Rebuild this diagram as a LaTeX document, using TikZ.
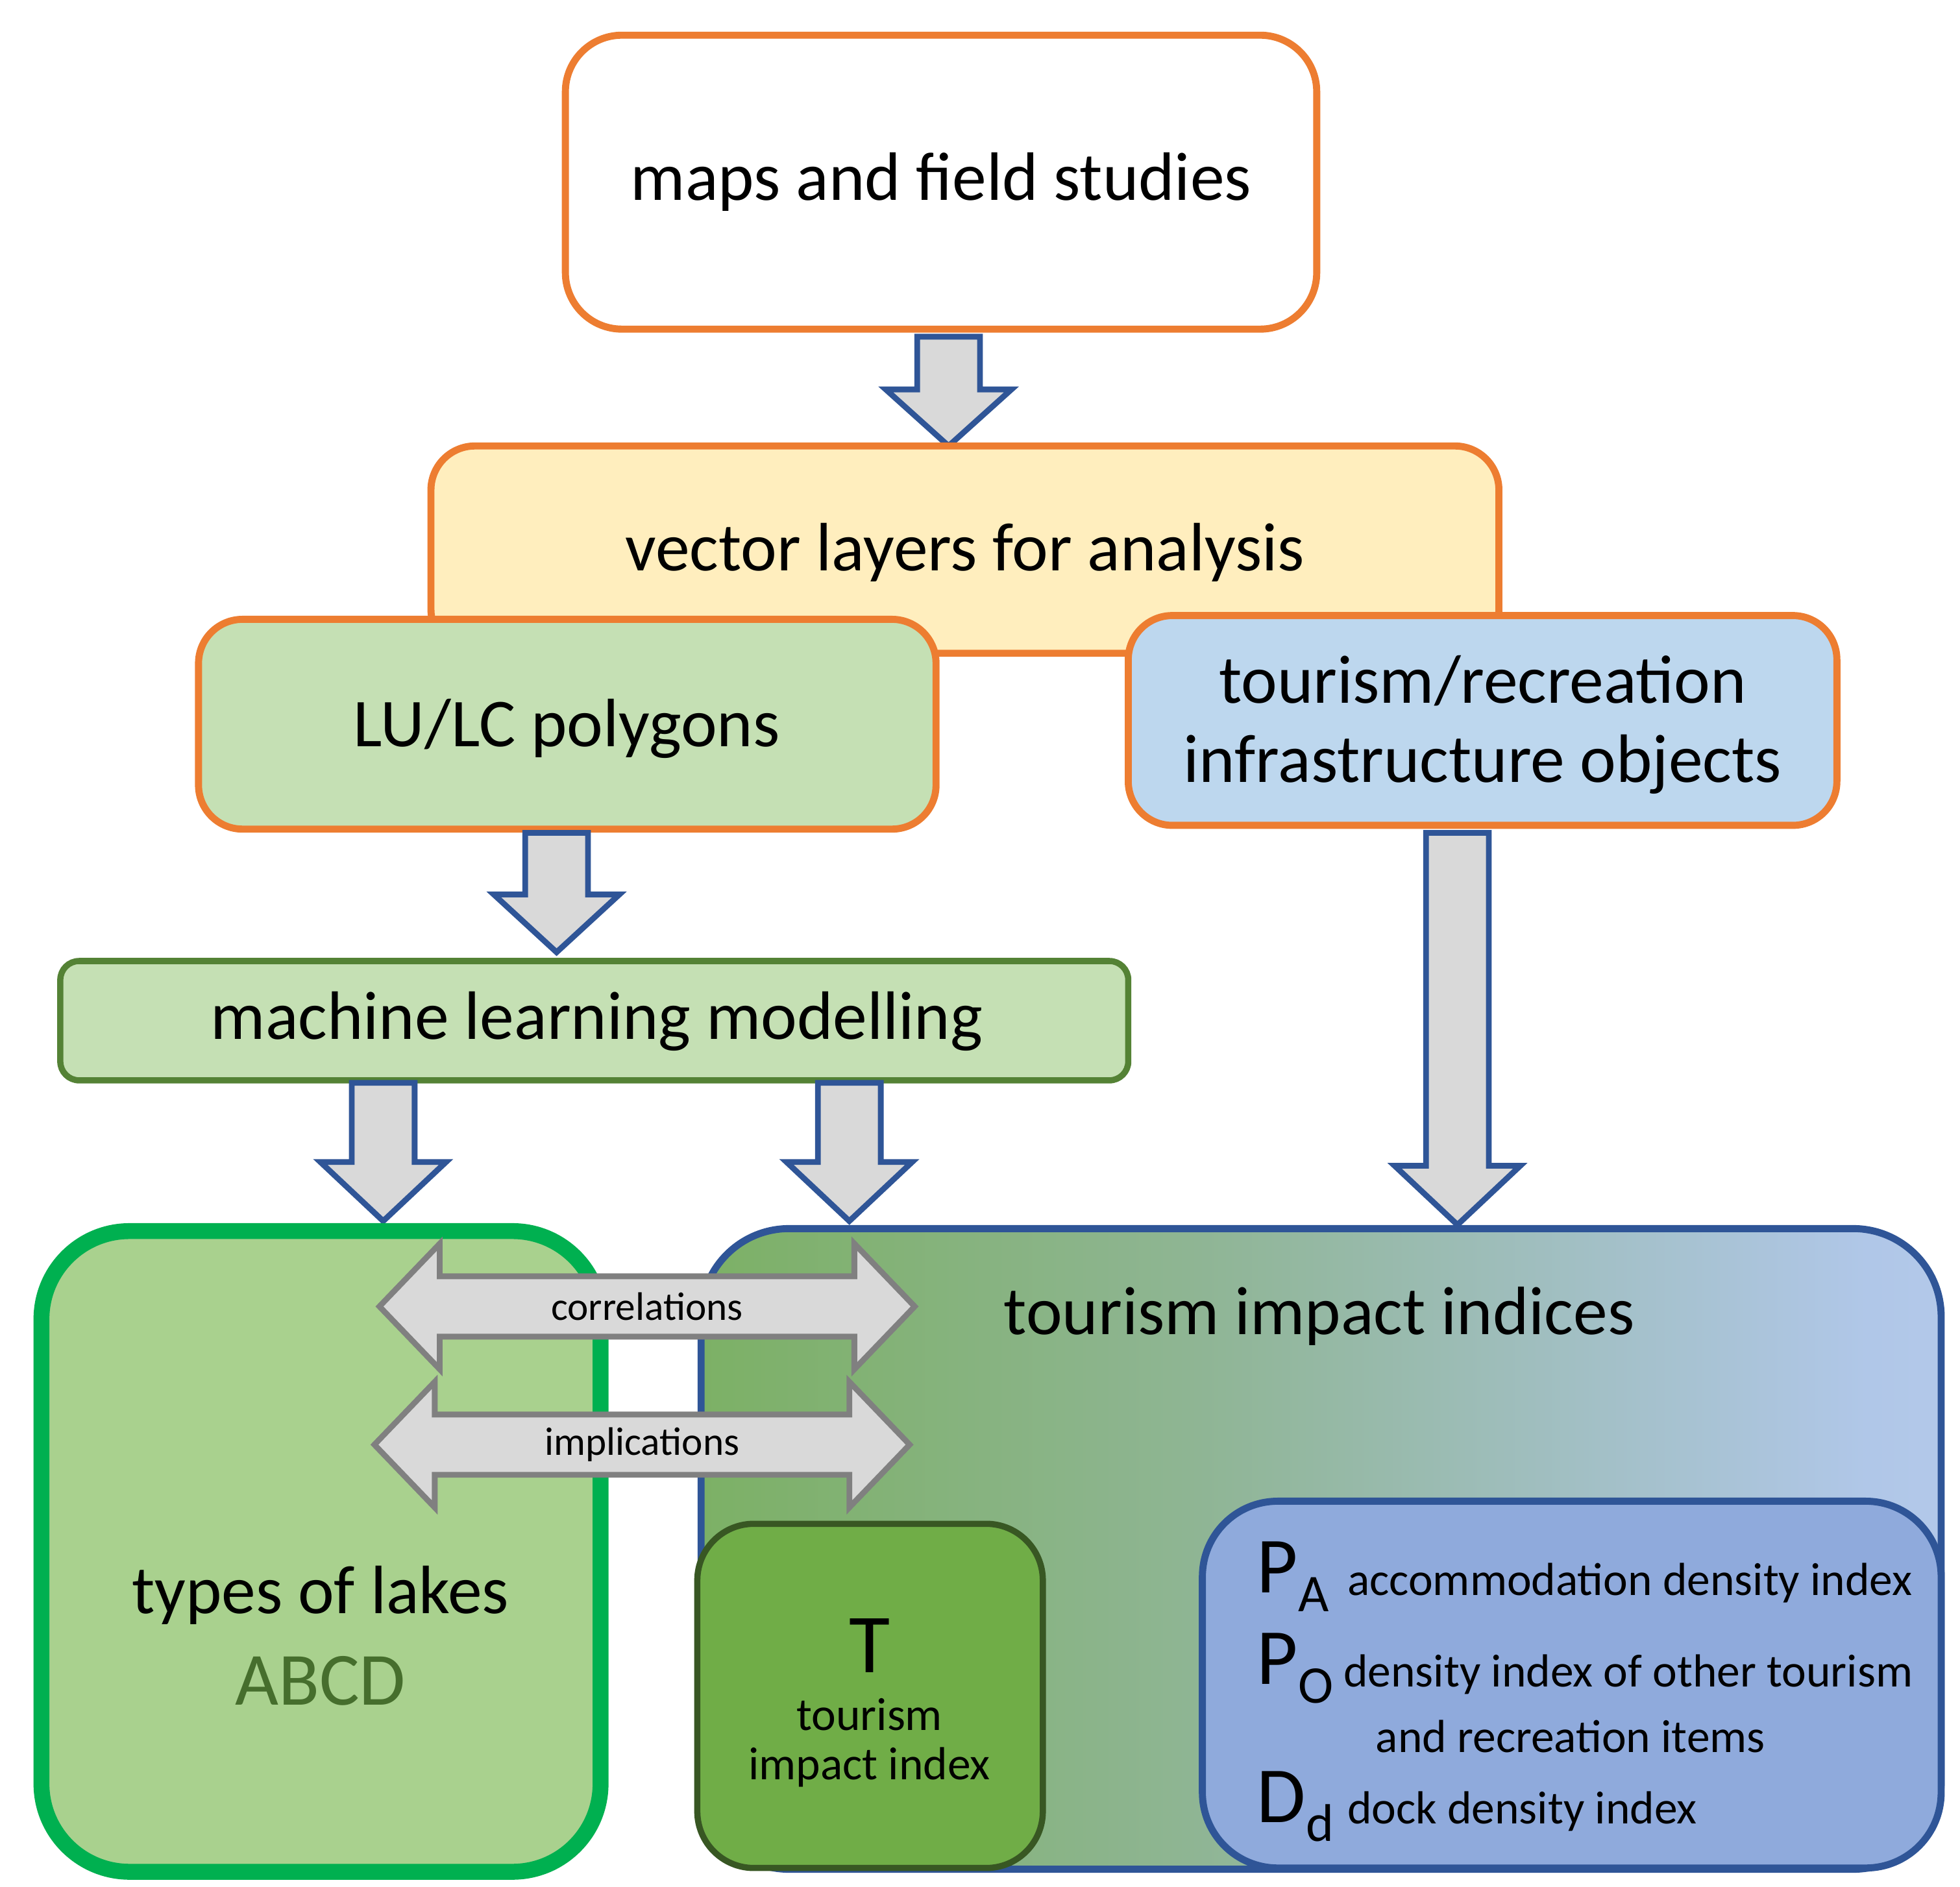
\documentclass[tikz,border=0pt]{standalone}
\usepackage{fontspec}
\setmainfont{Carlito}
\definecolor{org}{HTML}{ED7D31}
\definecolor{ablue}{HTML}{2F5597}
\definecolor{agray}{HTML}{D9D9D9}
\definecolor{g1}{rgb}{0.44,0.68,0.28}
\definecolor{g2}{rgb}{0.56,0.71,0.58}
\definecolor{g3}{rgb}{0.69,0.78,0.91}
\definecolor{g4}{rgb}{0.79,0.84,0.94}
\pgfdeclarehorizontalshading{tgrad}{100bp}{color(0bp)=(g1); color(12bp)=(g1); color(45bp)=(g2); color(72bp)=(g3); color(100bp)=(g4)}
\newcommand\darrow[6]{% name, cx, ytop, yshaftend, ytip
 \draw[blockarr] (#2-25,-#3) -- (#2+25,-#3) -- (#2+25,-#4) -- (#2+50,-#4) -- (#2,-#5) -- (#2-50,-#4) -- (#2-25,-#4) -- cycle;}
\newcommand\lrarrow[4]{% x1, x2, cy
 \draw[dblarr] (#1,-#3) -- (#1+48,-#3+50) -- (#1+48,-#3+24) -- (#2-48,-#3+24) -- (#2-48,-#3+50) -- (#2,-#3) -- (#2-48,-#3-50) -- (#2-48,-#3-24) -- (#1+48,-#3-24) -- (#1+48,-#3-50) -- cycle;
 \node at ({(#1+#2)/2},-#3) {\fontsize{9}{11}\selectfont #4};}
\begin{document}
\begin{tikzpicture}[x=0.01cm,y=0.01cm,
 box/.style={draw=org,line width=1.6pt,rounded corners=0.35cm},
 blockarr/.style={draw=ablue,fill=agray,line width=1.3pt,line join=miter},
 dblarr/.style={draw=gray,fill=agray,line width=1.3pt},
 big/.style={font=\fontsize{15.5}{19}\selectfont},
 small/.style={font=\fontsize{10.5}{13}\selectfont}]
\useasboundingbox (0,0) rectangle (1560,-1502);
% top
\draw[box,rounded corners=0.45cm,fill=white] (450,-28) rectangle (1048,-262);
\node[big] (maps) at (749,-145) {maps and field studies};
\darrow{a1}{755}{268}{310}{355}{}
\draw[box,fill={rgb,255:red,255;green,238;blue,190}] (343,-355) rectangle (1193,-520);
\node[big] (vec) at (768,-440) {vector layers for analysis};
\draw[box,fill={rgb,255:red,197;green,224;blue,180}] (158,-493) rectangle (745,-660);
\node[big] (lulc) at (451,-580) {LU/LC polygons};
\draw[box,fill={rgb,255:red,189;green,215;blue,238}] (898,-490) rectangle (1462,-657);
\node[big,align=center] (tour) at (1180,-577) {tourism/recreation\\[-1pt]infrastructure objects};
\darrow{a2}{443}{663}{712}{758}{}
\draw[draw={rgb,255:red,84;green,130;blue,53},line width=1.4pt,rounded corners=0.15cm,fill={rgb,255:red,197;green,224;blue,180}] (48,-765) rectangle (898,-860);
\node[big] (ml) at (475,-813) {machine learning modelling};
\darrow{a3}{305}{862}{925}{972}{}
\darrow{a4}{676}{862}{925}{972}{}
\darrow{a5}{1160}{663}{928}{975}{}
% bottom
\draw[draw={rgb,255:red,0;green,176;blue,80},line width=3.6pt,rounded corners=0.7cm,fill={rgb,255:red,169;green,209;blue,142}] (33,-980) rectangle (478,-1490);
\node[big,align=center] (lakes) at (255,-1270) {types of lakes};
\node[font=\fontsize{17}{20}\selectfont,text={rgb,255:red,70;green,110;blue,45}] (abcd) at (255,-1338) {ABCD};
\draw[draw=ablue,line width=1.6pt,rounded corners=0.7cm,shading=tgrad] (558,-978) rectangle (1545,-1488);
\node[big] (tii) at (1050,-1048) {tourism impact indices};
\draw[draw={rgb,255:red,56;green,87;blue,35},line width=1.4pt,rounded corners=0.45cm,fill=g1] (555,-1213) rectangle (830,-1487);
\node[font=\fontsize{19}{22}\selectfont] (T) at (692,-1310) {T};
\node[small] (Tl1) at (692,-1365) {tourism};
\node[small] (Tl2) at (692,-1407) {impact index};
\draw[draw=ablue,line width=1.6pt,rounded corners=0.6cm,fill={rgb,255:red,143;green,170;blue,220}] (957,-1195) rectangle (1545,-1487);
\node[anchor=west,font=\fontsize{18}{22}\selectfont] (PA) at (988,-1255) {P\raisebox{-0.5ex}{\fontsize{12}{14}\selectfont A}};
\node[anchor=west,small] (PAl) at (1060,-1260) {accommodation density index};
\node[anchor=west,font=\fontsize{18}{22}\selectfont] (PO) at (988,-1328) {P\raisebox{-0.5ex}{\fontsize{12}{14}\selectfont O}};
\node[anchor=west,small] (POl) at (1057,-1333) {density index of other tourism};
\node[small] (POl2) at (1250,-1382) {and recreation items};
\node[anchor=west,font=\fontsize{18}{22}\selectfont] (Dd) at (988,-1438) {D\raisebox{-0.5ex}{\fontsize{12}{14}\selectfont d}};
\node[anchor=west,small] (Ddl) at (1060,-1442) {dock density index};
\lrarrow{302}{728}{1040}{correlations}
\lrarrow{298}{724}{1150}{implications}
\end{tikzpicture}
\end{document}
